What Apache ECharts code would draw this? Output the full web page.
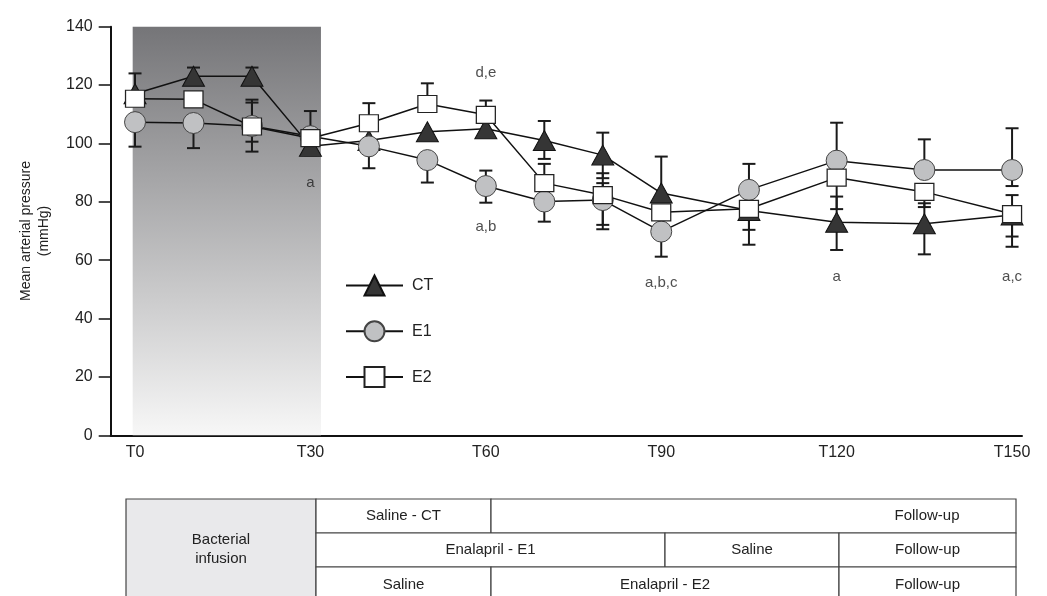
<!DOCTYPE html>
<html><head><meta charset="utf-8">
<script src="https://cdn.jsdelivr.net/npm/echarts@6/dist/echarts.min.js"></script>
<style>html,body{margin:0;padding:0;background:#fff}#c{width:1047px;height:596px}</style>
</head><body><div id="c"></div>
<script>
// ---- data ----
const times = [0,10,20,30,40,50,60,70,80,90,105,120,135,150];
const xTickValues = [0,30,60,90,120,150];
const yTicks = [0,20,40,60,80,100,120,140];

const ctValues = [117,123,123,99,101,104,105,101,96,83,77,73,72.5,75.5];
const ctHi     = [124,126,126,null,null,null,null,107.7,103.7,95.5,null,81.8,79.5,null];
const ctLo     = [null,null,null,96,null,null,null,94.7,88.1,null,65.3,63.5,62,64.6];

const e1Values = [107.3,107,106,102.5,99,94.3,85.4,80.1,80.6,69.8,84.1,94.1,90.9,90.9];
const e1Hi     = [null,null,114,null,null,null,90.7,null,86.4,null,93,107.1,101.4,105.2];
const e1Lo     = [98.9,98.4,100.6,null,91.5,86.6,79.7,73.2,70.6,61.2,null,null,null,85.4];

const e2Values = [115.3,115.1,105.8,101.8,106.9,113.5,109.8,86.4,82.3,76.4,77.6,88.3,83.4,75.8];
const e2Hi     = [null,null,115,111.1,113.8,120.6,114.7,93.0,89.8,null,null,null,null,82.3];
const e2Lo     = [null,null,97.2,null,null,null,null,null,72.1,null,70.4,77.5,78.2,68.1];

const annotTimes  = [30,60,60,90,120,150];
const annotValues = [86.4,124.2,71.4,52.2,54.3,54.3];
const annotLabels = ['a','d,e','a,b','a,b,c','a','a,c'];

const infusionRange = [-0.4, 31.8];

const tableRows = [
  [['Saline - CT',316,491],['Follow-up',491,1016,927]],
  [['Enalapril - E1',316,665],['Saline',665,839],['Follow-up',839,1016]],
  [['Saline',316,491],['Enalapril - E2',491,839],['Follow-up',839,1016]]
];
const tableRowY = [[499,533],[533,567],[567,603]];

// ---- build ----
function pairs(vals){ return times.map((t,i)=>[t,vals[i]]); }
function errData(vals,hi,lo){
  const out=[];
  times.forEach((t,i)=>{
    if(hi[i]!=null) out.push([t,vals[i],hi[i]]);
    if(lo[i]!=null) out.push([t,vals[i],lo[i]]);
  });
  return out;
}
const allErr = [].concat(errData(ctValues,ctHi,ctLo), errData(e1Values,e1Hi,e1Lo), errData(e2Values,e2Hi,e2Lo));

const FONT = 'Liberation Sans, Arial, sans-serif';
const graphics = [];
graphics.push({type:'rect', shape:{x:126,y:499,width:190,height:110}, style:{fill:'#e9e9eb',stroke:'#444',lineWidth:1.2}, z:10});
graphics.push({type:'text', x:221, y:549, style:{text:'Bacterial\ninfusion', font:'15px '+FONT, fill:'#222', align:'center', verticalAlign:'middle', lineHeight:19}, z:11});
tableRows.forEach((row,ri)=>{
  const [y1,y2]=tableRowY[ri];
  row.forEach(c=>{
    const [txt,x1,x2,tx]=c;
    graphics.push({type:'rect', shape:{x:x1,y:y1,width:x2-x1,height:y2-y1}, style:{fill:'#fff',stroke:'#444',lineWidth:1.2}, z:10});
    graphics.push({type:'text', x:(tx!=null?tx:(x1+x2)/2), y:(y1+y2)/2, style:{text:txt, font:'15px '+FONT, fill:'#222', align:'center', verticalAlign:'middle'}, z:11});
  });
});

const chart = echarts.init(document.getElementById('c'), null, {renderer:'canvas'});
const lineStyle = {color:'#111', width:1.5};
chart.setOption({
  animation:false,
  backgroundColor:'#fff',
  textStyle:{fontFamily:FONT},
  grid:{left:110.7, right:25, top:26.7, bottom:160.7, containLabel:false},
  xAxis:{
    type:'value', min:-4.16, max:151.7,
    axisLine:{show:true, onZero:false, lineStyle:{color:'#111', width:2}},
    axisTick:{show:false}, splitLine:{show:false},
    axisLabel:{customValues:xTickValues, formatter:v=>'T'+v, fontSize:16, color:'#222', margin:9, fontFamily:FONT}
  },
  yAxis:{
    type:'value', min:0, max:140, interval:20,
    name:'Mean arterial pressure\n(mmHg)', nameLocation:'middle', nameGap:58,
    nameTextStyle:{fontSize:14, color:'#222', lineHeight:18, fontFamily:FONT},
    axisLine:{show:true, onZero:false, lineStyle:{color:'#111', width:2}},
    axisTick:{show:true, length:12, lineStyle:{color:'#111', width:1.5}},
    splitLine:{show:false},
    axisLabel:{fontSize:16, color:'#222', margin:18, fontFamily:FONT}
  },
  legend:{
    orient:'vertical', left:345, top:274.5, padding:0, itemWidth:57, itemHeight:25, itemGap:23.8,
    data:['CT','E1','E2'],
    textStyle:{fontSize:16, color:'#222', fontFamily:FONT, padding:[0,0,0,4]}
  },
  graphic:graphics,
  series:[
    {type:'line', name:'shade', data:[], z:0, silent:true,
      markArea:{silent:true, itemStyle:{color:new echarts.graphic.LinearGradient(0,0,0,1,[{offset:0,color:'#757578'},{offset:1,color:'#f7f7f7'}])},
        data:[[{xAxis:infusionRange[0], yAxis:0},{xAxis:infusionRange[1], yAxis:140}]]}},
    {type:'custom', name:'err', z:1, data:allErr, encode:{x:0,y:[1,2]},
      renderItem:(params,api)=>{
        const p0=api.coord([api.value(0),api.value(1)]);
        const p1=api.coord([api.value(0),api.value(2)]);
        return {type:'group', children:[
          {type:'line', shape:{x1:p0[0],y1:p0[1],x2:p1[0],y2:p1[1]}, style:{stroke:'#1a1a1a',lineWidth:2}},
          {type:'line', shape:{x1:p1[0]-6.5,y1:p1[1],x2:p1[0]+6.5,y2:p1[1]}, style:{stroke:'#1a1a1a',lineWidth:2}}
        ]};
      }},
    {type:'line', name:'CT', z:3, data:pairs(ctValues), symbol:'triangle', symbolSize:[22,20], showAllSymbol:true,
      lineStyle:lineStyle, itemStyle:{color:'#353535', borderColor:'#111', borderWidth:1}},
    {type:'line', name:'E1', z:4, data:pairs(e1Values), symbol:'circle', symbolSize:21, showAllSymbol:true,
      lineStyle:lineStyle, itemStyle:{color:'#c0c1c3', borderColor:'#444', borderWidth:1}},
    {type:'line', name:'E2', z:5, data:pairs(e2Values), symbol:'rect', symbolSize:[19,17], showAllSymbol:true,
      lineStyle:lineStyle, itemStyle:{color:'#ffffff', borderColor:'#222', borderWidth:1.2}},
    {type:'scatter', name:'annot', z:6, symbolSize:0, silent:true,
      data:annotTimes.map((t,i)=>[t,annotValues[i]]),
      label:{show:true, position:'inside', formatter:p=>annotLabels[p.dataIndex], fontSize:15, color:'#222', fontFamily:FONT}}
  ]
});
</script></body></html>
